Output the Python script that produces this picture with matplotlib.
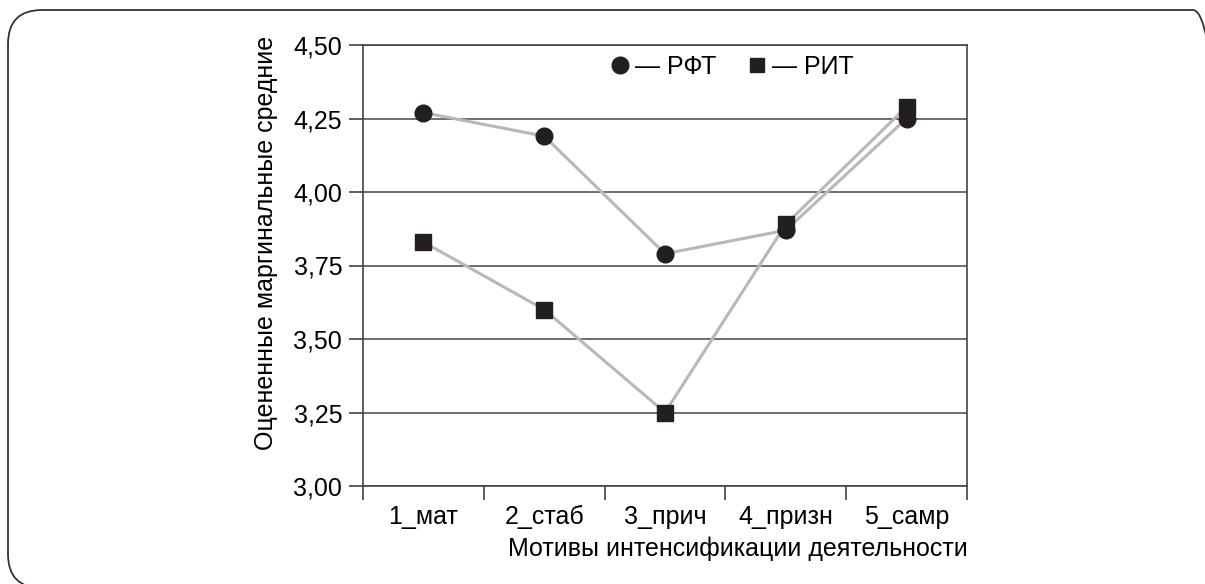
import numpy as np
import matplotlib
matplotlib.use("Agg")
import matplotlib.pyplot as plt
from matplotlib.patches import FancyBboxPatch
from matplotlib.lines import Line2D

plt.rcParams['font.family'] = ['Liberation Sans', 'DejaVu Sans']

# данные
categories = ['1_мат', '2_стаб', '3_прич', '4_призн', '5_самр']
rft = [4.27, 4.19, 3.79, 3.87, 4.25]
rit = [3.83, 3.60, 3.25, 3.89, 4.29]
yticks = [3.00, 3.25, 3.50, 3.75, 4.00, 4.25, 4.50]
ytick_labels = ['3,00', '3,25', '3,50', '3,75', '4,00', '4,25', '4,50']

W, H = 1205, 584
fs = 18
fig = plt.figure(figsize=(W / 100, H / 100), dpi=100)

# фоновые оси в пикселях для рамки со скруглёнными углами
bg = fig.add_axes([0, 0, 1, 1])
bg.set_xlim(0, W)
bg.set_ylim(0, H)
bg.axis('off')
bg.add_patch(FancyBboxPatch((8, -4), 1219, 578,
                            boxstyle="round,pad=0,rounding_size=34",
                            fill=False, edgecolor='#333333', linewidth=1.3,
                            clip_on=False))

ax = fig.add_axes([363 / W, 98 / H, 604 / W, 441 / H])

x = np.arange(1, len(categories) + 1)
line_col = '#b8b8b8'
mark_col = '#231f20'
ax.plot(x, rft, color=line_col, lw=2.2, zorder=2)
ax.plot(x, rit, color=line_col, lw=2.2, zorder=2)
ax.plot(x, rft, 'o', color=mark_col, ms=12, zorder=3)
ax.plot(x, rit, 's', color=mark_col, ms=11, zorder=3)

ax.set_xlim(0.5, len(categories) + 0.5)
ax.set_ylim(3.0, 4.5)
ax.set_yticks(yticks)
ax.set_yticklabels(ytick_labels, fontsize=fs)
ax.set_xticks(x)
ax.set_xticklabels(categories, fontsize=fs)
ax.set_xticks(np.arange(0.5, len(categories) + 1, 1.0), minor=True)
ax.tick_params(axis='x', which='major', length=0, pad=14)
ax.tick_params(axis='x', which='minor', length=10, width=1.2, color='#444444')
ax.tick_params(axis='y', length=10, width=1.2, color='#444444', pad=5)

ax.grid(axis='y', color='#555555', lw=1.2, zorder=1)
for s in ax.spines.values():
    s.set_color('#444444')
    s.set_linewidth(1.2)

fig.text(968 / W, 1 - 549 / H, 'Мотивы интенсификации деятельности',
         ha='right', va='center', fontsize=fs)
fig.text(266 / W, 1 - 243 / H, 'Оцененные маргинальные средние',
         ha='center', va='center', rotation=90, fontsize=fs)

handles = [Line2D([], [], marker='o', ls='none', color=mark_col, ms=12),
           Line2D([], [], marker='s', ls='none', color=mark_col, ms=10)]
ax.legend(handles, ['— РФТ', '— РИТ'], ncol=2, frameon=False, fontsize=fs,
          loc='center', bbox_to_anchor=((733 - 363) / 604, (486 - 67) / 441),
          handlelength=0.6, handletextpad=0.3, columnspacing=1.3,
          borderaxespad=0)

fig.savefig('out.png', dpi=100)
